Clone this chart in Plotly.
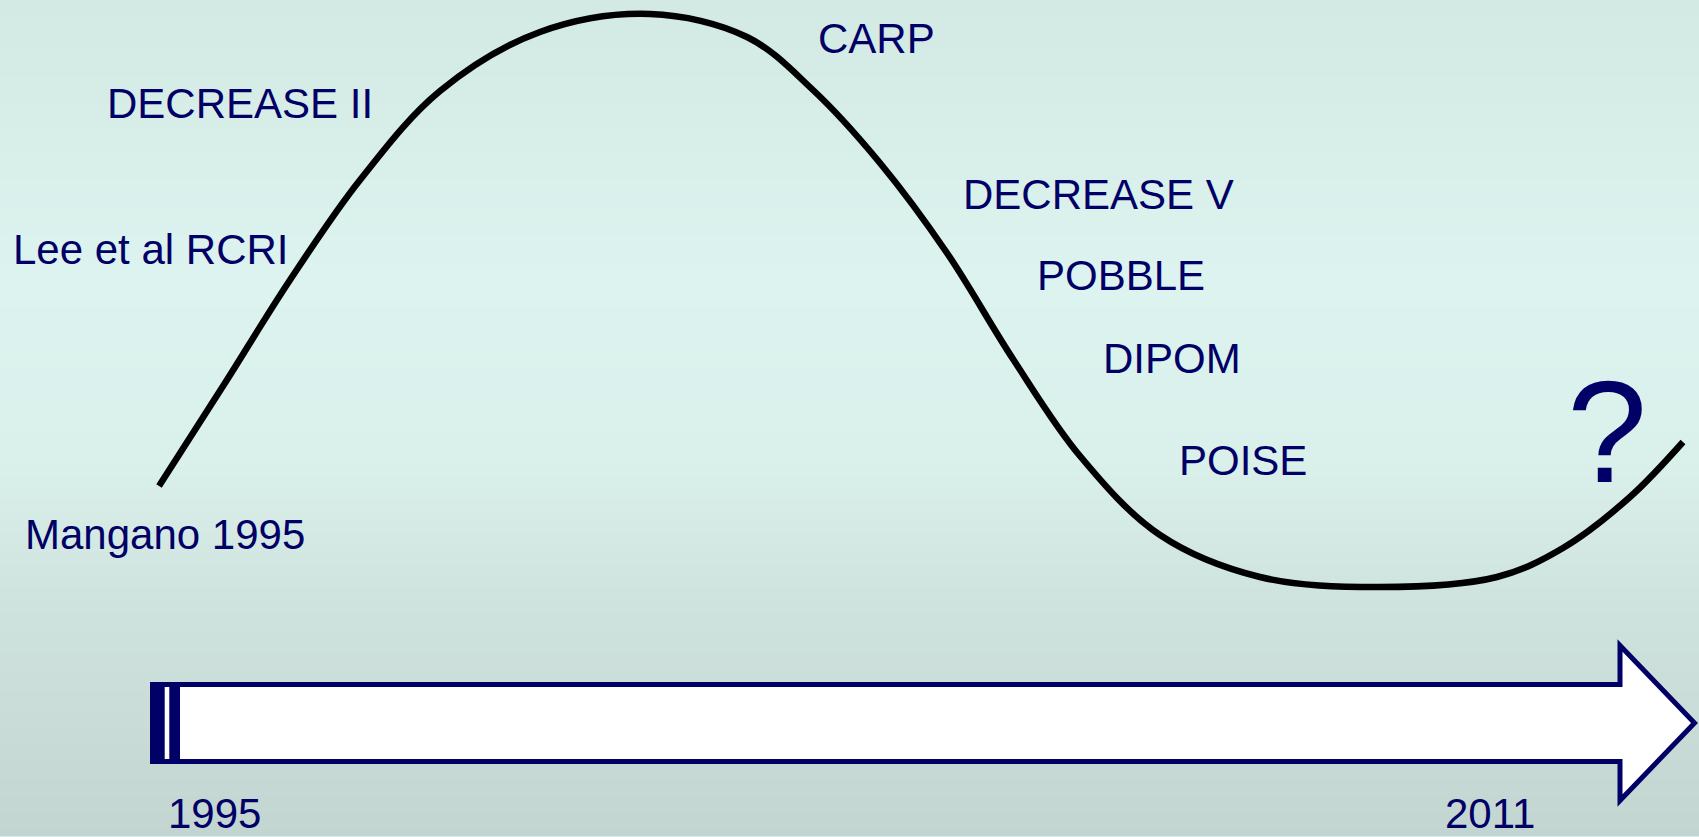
import plotly.graph_objects as go

W, H = 1699, 837
NAVY = "#000066"
FONT = "Liberation Sans, Arial, sans-serif"

# Popularity curve of perioperative beta-blockade, traced across the timeline
curve_x = [159, 225, 290, 360, 440, 540, 650, 747, 813, 880, 947, 1013,
           1080, 1160, 1260, 1380, 1497, 1563, 1630, 1683]
curve_y = [486, 383, 280, 180, 91, 32, 14, 37, 90, 163, 253, 359,
           456, 535, 577, 587, 577, 548, 497, 442]

# Study names placed along the curve
study_labels = ["Mangano 1995", "Lee et al RCRI", "DECREASE II", "CARP",
                "DECREASE V", "POBBLE", "DIPOM", "POISE"]
study_x = [25, 13, 107, 818, 963, 1037, 1103, 1179]
study_y = [534, 249, 103, 38, 194, 275, 358, 460]

# Timeline end labels
year_labels = ["1995", "2011"]
year_x = [168, 1445]
year_y = [813, 813]

# Vertical background ramp (position 0..1 from top, colour)
bg_stops = [(0.0, "#d3e9e3"), (0.33, "#dcf3ef"), (0.55, "#daf0eb"),
            (0.72, "#cfe3de"), (1.0, "#c3d5d1")]

fig = go.Figure()

# Background gradient as a smooth heatmap
rows = list(range(0, H + 1, 8))
fig.add_trace(go.Heatmap(
    x=[0, W], y=rows, z=[[r, r] for r in rows],
    zmin=0, zmax=H, colorscale=[[p, c] for p, c in bg_stops],
    zsmooth="best", showscale=False, hoverinfo="skip",
))

fig.add_trace(go.Scatter(
    x=curve_x, y=curve_y, mode="lines",
    line=dict(color="black", width=6.5, shape="spline", smoothing=1.0),
    hoverinfo="skip", showlegend=False,
))

# Striped timeline arrow
shapes = [
    dict(type="path",
         path="M 177,684.5 L 1620,684.5 L 1620,645.5 L 1694.5,723 "
              "L 1620,800.5 L 1620,761.5 L 177,761.5 Z",
         fillcolor="white", line=dict(color=NAVY, width=5), layer="above"),
    dict(type="rect", x0=150, x1=180, y0=682, y1=764,
         fillcolor=NAVY, line=dict(width=0), layer="above"),
    dict(type="rect", x0=164.7, x1=169.3, y0=687, y1=759,
         fillcolor="white", line=dict(width=0), layer="above"),
]

annotations = []
for txt, x, y in zip(study_labels + year_labels, study_x + year_x,
                     study_y + year_y):
    annotations.append(dict(x=x, y=y, text=txt, showarrow=False,
                            xanchor="left", yanchor="middle",
                            borderpad=0, borderwidth=0,
                            font=dict(family=FONT, size=42, color=NAVY)))
annotations.append(dict(x=1607, y=432, text="?", showarrow=False,
                        xanchor="center", yanchor="middle",
                        borderpad=0, borderwidth=0,
                        font=dict(family=FONT, size=144, color=NAVY)))

fig.update_layout(
    width=W, height=H,
    margin=dict(l=0, r=0, t=0, b=0),
    paper_bgcolor="#d8eeea", plot_bgcolor="#d8eeea",
    xaxis=dict(range=[0, W], visible=False, fixedrange=True),
    yaxis=dict(range=[H, 0], visible=False, fixedrange=True),
    shapes=shapes, annotations=annotations,
    showlegend=False,
)

fig.write_html("out.html", config={"displayModeBar": False})
